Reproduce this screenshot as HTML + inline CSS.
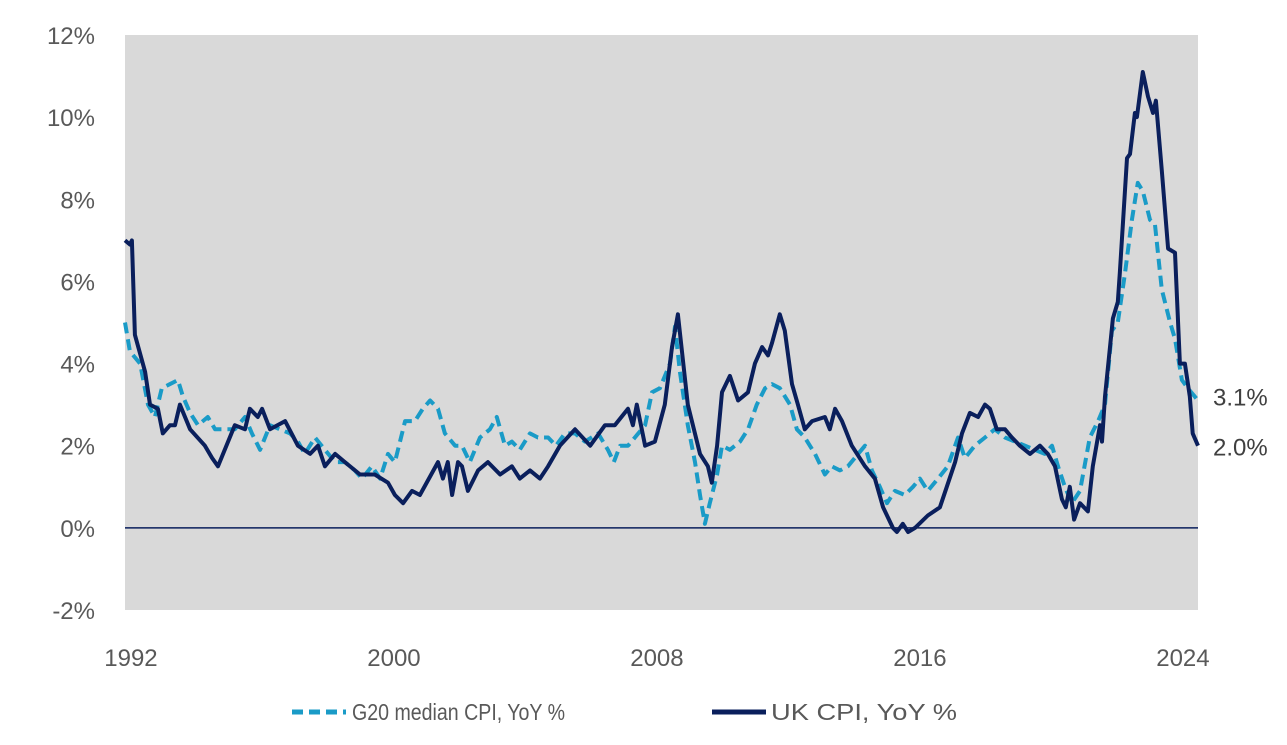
<!DOCTYPE html>
<html><head><meta charset="utf-8"><style>
html,body{margin:0;padding:0;background:#fff;}
svg{display:block;font-family:"Liberation Sans",sans-serif;}
</style></head><body>
<svg id="chart" width="1287" height="745" viewBox="0 0 1287 745">
<rect x="125" y="35" width="1073" height="575" fill="#d9d9d9"/>
<g id="yaxis"></g>
<g id="xaxis"></g>
<g id="series"></g>
<g>
<g>
<line x1="292" y1="712" x2="346" y2="712" stroke="#1a9bc7" stroke-width="5" stroke-dasharray="11,6"/>
<text x="352" y="720" font-size="23" fill="#595959" textLength="213" lengthAdjust="spacingAndGlyphs">G20 median CPI, YoY %</text>
</g>
<g>
<line x1="712" y1="712" x2="766" y2="712" stroke="#0a1f5c" stroke-width="5"/>
<text x="771" y="720" font-size="23" fill="#595959" textLength="186" lengthAdjust="spacingAndGlyphs">UK CPI, YoY %</text>
</g>
</g>
</svg>
<script>
const yTicks=[-2,0,2,4,6,8,10,12];
const xTicks=[1992,2000,2008,2016,2024];
const ukYears=[1991.91,1992.06,1992.12,1992.21,1992.52,1992.67,1992.91,1993.06,1993.28,1993.43,1993.58,1993.89,1994.34,1994.56,1994.74,1995.25,1995.56,1995.71,1995.95,1996.08,1996.32,1996.78,1997.17,1997.54,1997.78,1997.99,1998.30,1998.60,1999.06,1999.51,1999.91,2000.12,2000.37,2000.64,2000.88,2001.43,2001.58,2001.73,2001.86,2002.04,2002.16,2002.34,2002.65,2002.95,2003.32,2003.68,2003.92,2004.23,2004.53,2004.78,2005.14,2005.60,2006.06,2006.51,2006.81,2007.21,2007.36,2007.48,2007.73,2008.03,2008.33,2008.55,2008.73,2009.03,2009.40,2009.64,2009.76,2009.92,2010.07,2010.31,2010.56,2010.86,2011.07,2011.29,2011.47,2011.59,2011.83,2011.98,2012.20,2012.38,2012.59,2012.81,2013.20,2013.35,2013.51,2013.72,2014.02,2014.42,2014.72,2014.97,2015.27,2015.39,2015.57,2015.73,2015.94,2016.33,2016.70,2016.91,2017.16,2017.37,2017.61,2017.86,2018.07,2018.22,2018.43,2018.68,2018.89,2019.13,2019.44,2019.74,2019.98,2020.20,2020.41,2020.53,2020.65,2020.78,2020.96,2021.20,2021.35,2021.57,2021.63,2021.72,2021.96,2022.11,2022.17,2022.39,2022.48,2022.63,2022.69,2022.87,2023.03,2023.18,2023.27,2023.45,2023.64,2023.85,2024.00,2024.15,2024.30,2024.39,2024.55];
const ukValues=[7.0,6.9,7.0,4.7,3.8,3.0,2.9,2.3,2.5,2.5,3.0,2.4,2.0,1.7,1.5,2.5,2.4,2.9,2.7,2.9,2.4,2.6,2.0,1.8,2.0,1.5,1.8,1.6,1.3,1.3,1.1,0.8,0.6,0.9,0.8,1.6,1.2,1.6,0.8,1.6,1.5,0.9,1.4,1.6,1.3,1.5,1.2,1.4,1.2,1.5,2.0,2.4,2.0,2.5,2.5,2.9,2.5,3.0,2.0,2.1,3.0,4.4,5.2,3.0,1.8,1.5,1.1,2.0,3.3,3.7,3.1,3.3,4.0,4.4,4.2,4.5,5.2,4.8,3.5,3.0,2.4,2.6,2.7,2.4,2.9,2.6,2.0,1.5,1.2,0.5,0.0,-0.1,0.1,-0.1,0.0,0.3,0.5,1.0,1.6,2.3,2.8,2.7,3.0,2.9,2.4,2.4,2.2,2.0,1.8,2.0,1.8,1.5,0.7,0.5,1.0,0.2,0.6,0.4,1.5,2.5,2.1,3.2,5.1,5.5,6.2,9.0,9.1,10.1,10.0,11.1,10.5,10.1,10.4,8.7,6.8,6.7,4.0,4.0,3.2,2.3,2.0];
const g20Years=[1991.91,1992.06,1992.37,1992.61,1992.82,1993.03,1993.28,1993.52,1993.67,1993.89,1994.13,1994.43,1994.65,1994.95,1995.25,1995.56,1995.77,1996.02,1996.32,1996.62,1996.93,1997.17,1997.38,1997.69,1997.99,1998.30,1998.60,1998.90,1999.12,1999.42,1999.67,1999.91,2000.12,2000.43,2000.73,2000.97,2001.19,2001.43,2001.64,2001.95,2002.16,2002.40,2002.71,2003.01,2003.22,2003.47,2003.68,2003.92,2004.23,2004.47,2004.78,2005.02,2005.29,2005.60,2005.90,2006.30,2006.60,2006.78,2006.97,2007.21,2007.42,2007.73,2007.94,2008.18,2008.49,2008.64,2008.79,2009.03,2009.25,2009.40,2009.55,2009.70,2009.92,2010.07,2010.31,2010.62,2010.86,2011.13,2011.38,2011.59,2011.83,2012.14,2012.35,2012.59,2012.90,2013.20,2013.41,2013.66,2013.90,2014.21,2014.42,2014.63,2014.87,2015.09,2015.33,2015.63,2015.88,2016.09,2016.33,2016.64,2016.94,2017.25,2017.46,2017.76,2018.07,2018.37,2018.68,2018.98,2019.29,2019.59,2019.89,2020.11,2020.29,2020.50,2020.71,2020.96,2021.26,2021.51,2021.72,2021.93,2022.11,2022.33,2022.54,2022.72,2022.87,2023.09,2023.24,2023.45,2023.70,2023.85,2024.06,2024.24,2024.45,2024.55];
const g20Values=[5.0,4.3,4.0,3.0,2.7,3.4,3.5,3.6,3.2,2.8,2.5,2.7,2.4,2.4,2.4,2.7,2.3,1.9,2.5,2.4,2.3,2.1,1.8,2.2,1.9,1.6,1.6,1.4,1.2,1.5,1.2,1.8,1.6,2.6,2.6,2.9,3.1,2.9,2.3,2.0,2.0,1.6,2.2,2.4,2.7,2.0,2.1,1.9,2.3,2.2,2.2,2.0,2.3,2.3,2.1,2.3,1.9,1.6,2.0,2.0,2.2,2.5,3.3,3.4,4.0,4.9,3.8,2.5,1.6,0.8,0.1,0.6,1.3,2.0,1.9,2.1,2.4,3.0,3.4,3.5,3.4,3.0,2.4,2.2,1.8,1.3,1.5,1.4,1.5,1.8,2.0,1.4,1.0,0.6,0.9,0.8,1.0,1.2,0.9,1.2,1.5,2.2,1.7,2.0,2.2,2.4,2.2,2.1,2.0,1.9,1.8,2.0,1.5,1.0,0.6,0.9,2.2,2.6,3.0,4.8,5.0,6.2,7.5,8.4,8.2,7.5,7.4,5.8,5.0,4.6,3.6,3.4,3.2,3.1];
const endLabels=["3.1%","2.0%"];

const X0=125,X1=1198,Y0=610,Y1=35;
const xMin=1991.91,xMax=2024.55,yMin=-2,yMax=12;
const xs=v=>X0+(v-xMin)/(xMax-xMin)*(X1-X0);
const ys=v=>Y0-(v-yMin)/(yMax-yMin)*(Y0-Y1);
const NS="http://www.w3.org/2000/svg";
function mk(tag,attrs,parent,txt){const e=document.createElementNS(NS,tag);for(const k in attrs)e.setAttribute(k,attrs[k]);if(txt!==undefined)e.textContent=txt;parent.appendChild(e);return e;}
const ya=document.getElementById('yaxis'),xa=document.getElementById('xaxis'),sg=document.getElementById('series');
yTicks.forEach(t=>{
  const e=mk('text',{x:95,y:ys(t)+9,'text-anchor':'end','font-size':24,fill:'#595959'},ya,t+'%');
  
  
});
xTicks.forEach(t=>{
  const e=mk('text',{x:xs(t)+3,y:666,'text-anchor':'middle','font-size':24,fill:'#595959'},xa,String(t));
  
  
});
const zl=mk('line',{x1:X0,x2:X1,y1:ys(0),y2:ys(0),stroke:'#0a1f5c','stroke-width':1.5},sg);


function pts(xsA,vs){return xsA.map((x,i)=>xs(x).toFixed(1)+','+ys(vs[i]).toFixed(1)).join(' ');}
const g=mk('polyline',{points:pts(g20Years,g20Values),fill:'none',stroke:'#1a9bc7','stroke-width':4,'stroke-dasharray':'11,6','stroke-linejoin':'round'},sg);


const u=mk('polyline',{points:pts(ukYears,ukValues),fill:'none',stroke:'#0a1f5c','stroke-width':4,'stroke-linejoin':'round'},sg);


const l1=mk('text',{x:1213,y:ys(g20Values[g20Values.length-1])+5,'font-size':24,fill:'#404040'},sg,endLabels[0]);


const l2=mk('text',{x:1213,y:ys(ukValues[ukValues.length-1])+10,'font-size':24,fill:'#404040'},sg,endLabels[1]);


</script>
</body></html>
